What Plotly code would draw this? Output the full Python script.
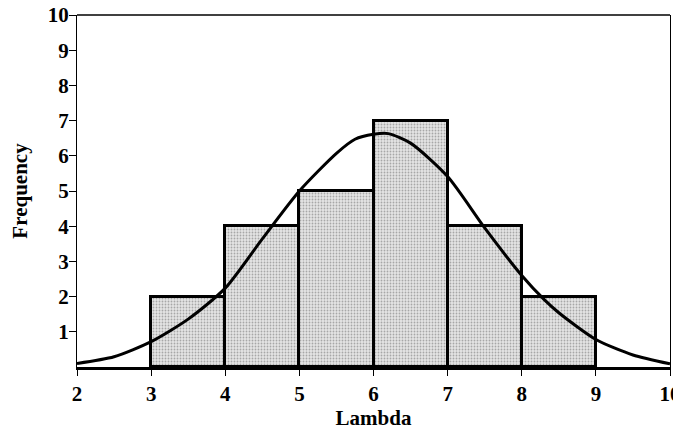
import plotly.graph_objects as go

bin_left = [3, 4, 5, 6, 7, 8]
bin_right = [4, 5, 6, 7, 8, 9]
freq = [2, 4, 5, 7, 4, 2]

curve_x = [2, 2.5, 3, 3.5, 4, 4.5, 5, 5.5, 5.75, 6, 6.2, 6.5, 7, 7.5, 8, 8.3, 8.5, 9, 9.5, 10]
curve_y = [0.10, 0.29, 0.72, 1.36, 2.24, 3.64, 5.00, 6.07, 6.47, 6.61, 6.63, 6.36, 5.41, 3.95, 2.60, 1.92, 1.54, 0.78, 0.34, 0.09]

x_ticks = [2, 3, 4, 5, 6, 7, 8, 9, 10]
y_ticks = [1, 2, 3, 4, 5, 6, 7, 8, 9, 10]

centers = [(a + b) / 2 for a, b in zip(bin_left, bin_right)]
widths = [b - a for a, b in zip(bin_left, bin_right)]

font_family = "Liberation Serif, Times New Roman, serif"

fig = go.Figure()
fig.add_trace(go.Bar(
    x=centers, y=freq, width=widths,
    marker=dict(
        color="#e0e0e0",
        line=dict(color="black", width=3),
        pattern=dict(shape=".", fgcolor="#6a6a6a", bgcolor="#e4e4e4", size=3, solidity=0.3),
    ),
    showlegend=False,
))
fig.add_trace(go.Scatter(
    x=curve_x, y=curve_y, mode="lines",
    line=dict(color="black", width=3, shape="spline", smoothing=0.7),
    showlegend=False,
))

# the page body adds an 8px offset, so the figure is 8px smaller and margins are shifted
fig.update_layout(
    width=673, height=424,
    margin=dict(l=69, r=11, t=7, b=65),
    plot_bgcolor="white", paper_bgcolor="white",
    font=dict(family=font_family, size=21, color="black"),
    bargap=0,
    xaxis=dict(
        range=[2, 10], tickvals=x_ticks, ticktext=[str(v) for v in x_ticks],
        showgrid=False, zeroline=False, automargin=False,
        showline=True, linecolor="black", linewidth=3,
        ticks="outside", ticklen=6, tickcolor="black", tickwidth=1,
        ticklabeloverflow="allow",
        tickfont=dict(family=font_family, size=21, color="black", weight="bold"),
        title=dict(text="<b>Lambda</b>", font=dict(family=font_family, size=21), standoff=2),
    ),
    yaxis=dict(
        range=[0, 10], tickvals=y_ticks, ticktext=[str(v) for v in y_ticks],
        showgrid=False, zeroline=False, automargin=False,
        showline=True, linecolor="black", linewidth=1, mirror=True,
        ticks="outside", ticklen=7, tickcolor="black", tickwidth=1,
        ticklabelstandoff=-4, ticklabeloverflow="allow",
        tickfont=dict(family=font_family, size=21, color="black", weight="bold"),
        title=dict(text="<b>Frequency</b>", font=dict(family=font_family, size=21), standoff=28),
    ),
    shapes=[dict(type="line", xref="paper", yref="paper", x0=0, x1=1, y0=1, y1=1,
                 line=dict(color="black", width=1.5))],
)

fig.write_html("out.html")
